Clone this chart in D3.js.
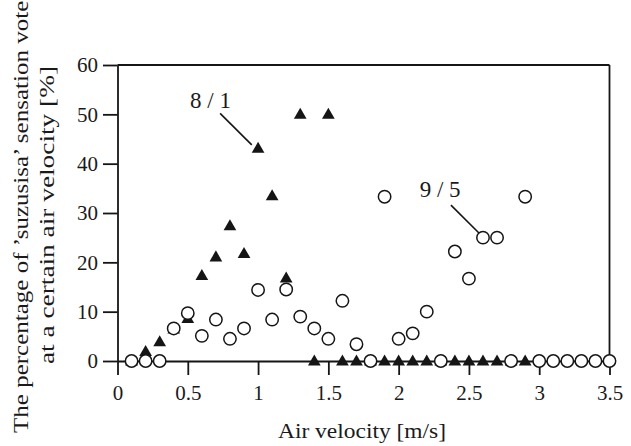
<!DOCTYPE html>
<html>
<head>
<meta charset="utf-8">
<script src="https://cdn.jsdelivr.net/npm/d3@7"></script>
</head>
<body style="margin:0;background:#fff">
<svg id="chart" width="631" height="446"></svg>
<script>
// ---- data ----
const velocity = [0.1,0.2,0.3,0.4,0.5,0.6,0.7,0.8,0.9,1.0,1.1,1.2,1.3,1.4,1.5,1.6,1.7,1.8,1.9,2.0,
                  2.1,2.2,2.3,2.4,2.5,2.6,2.7,2.8,2.9,3.0,3.1,3.2,3.3,3.4,3.5];
// 9/5 series (open circles)
const votes95 = [0,0,0,6.6,9.7,5.1,8.4,4.5,6.6,14.4,8.4,14.5,9.0,6.6,4.5,12.2,3.4,0,33.3,4.5,
                 5.6,10.0,0,22.2,16.7,25.0,25.0,0,33.3,0,0,0,0,0,0];
// 8/1 series (filled triangles), velocities 0.1 .. 2.9
const votes81 = [0,1.9,3.9,6.5,8.6,17.3,21.1,27.4,21.8,43.1,33.5,16.8,50.0,0,50.0,0,0,0,0,0,
                 0,0,0,0,0,0,0,0,0];
const xTicks = [0,0.5,1,1.5,2,2.5,3,3.5];
const yTicks = [0,10,20,30,40,50,60];
const xTitle = "Air velocity [m/s]";
const yTitle1 = "The percentage of \u2019suzusisa\u2019 sensation votes";
const yTitle2 = "at a certain air velocity [%]";
const label81 = "8 / 1";
const label95 = "9 / 5";

// ---- drawing ----
const FONT = "Liberation Serif";
const txt = "#1a1a1a";
const svg = d3.select("#chart");
svg.append("rect").attr("width", 631).attr("height", 446).attr("fill", "#fff");

const x = d3.scaleLinear().domain([0, 3.5]).range([117.5, 609.5]);
const y = d3.scaleLinear().domain([0, 60]).range([361, 65]);
const ink = "#151515";

// frame (top and right)
svg.append("line").attr("x1", x(0)).attr("x2", x(3.5)).attr("y1", y(60)).attr("y2", y(60))
  .attr("stroke", ink).attr("stroke-width", 1.8);
svg.append("line").attr("x1", x(3.5)).attr("x2", x(3.5)).attr("y1", y(60)).attr("y2", y(0))
  .attr("stroke", ink).attr("stroke-width", 1.8);

// x axis
const xAxis = svg.append("g").attr("transform", `translate(0,${y(0)})`)
  .call(d3.axisBottom(x).tickValues(xTicks).tickFormat(d3.format("~g"))
        .tickSize(14).tickSizeOuter(0).tickPadding(10.5));
// y axis
const yAxis = svg.append("g").attr("transform", `translate(${x(0)},0)`)
  .call(d3.axisLeft(y).tickValues(yTicks).tickSize(14.5).tickSizeOuter(0).tickPadding(5));

[xAxis, yAxis].forEach(g => {
  g.attr("font-family", FONT).attr("font-size", 21);
  g.select(".domain").attr("stroke", ink).attr("stroke-width", 1.8);
  g.selectAll(".tick line").attr("stroke", ink).attr("stroke-width", 1.8);
  g.selectAll(".tick text").attr("font-family", FONT).attr("font-size", 21).attr("fill", txt);
});

// axis titles
svg.append("text").attr("x", 278).attr("y", 438).attr("font-size", 22).attr("font-family", FONT)
  .attr("fill", txt).attr("textLength", 168).attr("lengthAdjust", "spacingAndGlyphs").text(xTitle);
svg.append("text").attr("transform", "rotate(-90)").attr("x", -433).attr("y", 27.5)
  .attr("font-size", 22).attr("font-family", FONT).attr("fill", txt)
  .attr("textLength", 442).attr("lengthAdjust", "spacingAndGlyphs")
  .text(yTitle1);
svg.append("text").attr("transform", "rotate(-90)").attr("x", -364).attr("y", 54)
  .attr("font-size", 22).attr("font-family", FONT).attr("fill", txt)
  .attr("textLength", 298).attr("lengthAdjust", "spacingAndGlyphs")
  .text(yTitle2);

// 8/1 triangles (drawn first, circles sit on top)
const tri = d3.symbol().type(d3.symbolTriangle).size(70);
svg.append("g").selectAll("path").data(votes81).join("path")
  .attr("d", tri)
  .attr("transform", (d, i) => `translate(${x(velocity[i])},${y(d) + 0.8})`)
  .attr("fill", ink);

// 9/5 circles
svg.append("g").selectAll("circle").data(votes95).join("circle")
  .attr("cx", (d, i) => x(velocity[i])).attr("cy", d => y(d))
  .attr("r", 6.2).attr("fill", "#fff").attr("stroke", ink).attr("stroke-width", 1.5);

// annotations
svg.append("text").attr("x", x(0.662)).attr("y", y(51.2)).attr("text-anchor", "middle")
  .attr("font-size", 23).attr("font-family", FONT).attr("fill", txt).text(label81);
svg.append("line").attr("x1", x(0.73)).attr("y1", y(50.2)).attr("x2", x(0.955)).attr("y2", y(43.8))
  .attr("stroke", ink).attr("stroke-width", 1.6);

svg.append("text").attr("x", x(2.295)).attr("y", y(33.3)).attr("text-anchor", "middle")
  .attr("font-size", 23).attr("font-family", FONT).attr("fill", txt).text(label95);
svg.append("line").attr("x1", x(2.372)).attr("y1", y(31.6)).attr("x2", x(2.573)).attr("y2", y(25.9))
  .attr("stroke", ink).attr("stroke-width", 1.6);
</script>
</body>
</html>
